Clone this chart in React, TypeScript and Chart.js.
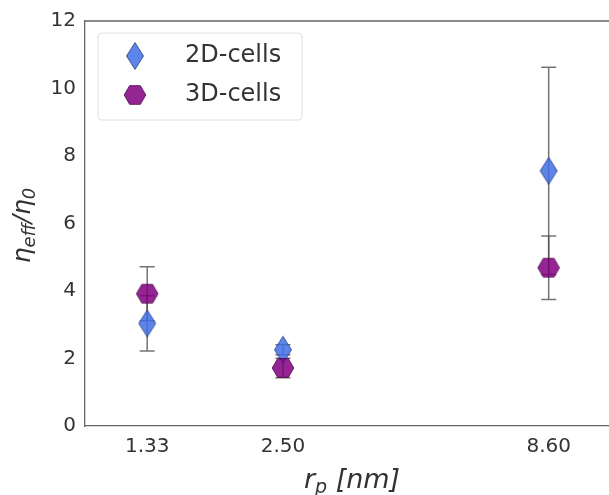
import React, { useEffect, useRef } from "react";
import { Chart, registerables } from "chart.js";
Chart.register(...registerables);

const radii = [1.33, 2.5, 8.6];
const tickLabels = ["1.33", "2.50", "8.60"];
const cells2D = [3.04, 2.26, 7.56];
const err2D = [0.82, 0.15, 3.07];
const cells3D = [3.92, 1.72, 4.69];
const err3D = [0.8, 0.29, 0.94];
const seriesNames = ["2D-cells", "3D-cells"];

const BLUE_FILL = "rgba(65,110,228,0.85)";
const BLUE_EDGE = "#2b3f8c";
const PURPLE_FILL = "rgba(128,0,128,0.85)";
const PURPLE_EDGE = "#4d004d";

function makeDiamond(): HTMLCanvasElement {
  const c = document.createElement("canvas");
  c.width = 20;
  c.height = 30;
  const g = c.getContext("2d")!;
  g.beginPath();
  g.moveTo(10, 1.5);
  g.lineTo(18.5, 15);
  g.lineTo(10, 28.5);
  g.lineTo(1.5, 15);
  g.closePath();
  g.fillStyle = BLUE_FILL;
  g.fill();
  g.strokeStyle = BLUE_EDGE;
  g.lineWidth = 0.8;
  g.stroke();
  return c;
}

function makeHexagon(): HTMLCanvasElement {
  const c = document.createElement("canvas");
  c.width = 24;
  c.height = 22;
  const g = c.getContext("2d")!;
  const cx = 12, cy = 11, r = 10.8;
  g.beginPath();
  for (let i = 0; i < 6; i++) {
    const a = (Math.PI / 3) * i;
    const x = cx + r * Math.cos(a);
    const y = cy + r * Math.sin(a);
    if (i === 0) g.moveTo(x, y);
    else g.lineTo(x, y);
  }
  g.closePath();
  g.fillStyle = PURPLE_FILL;
  g.fill();
  g.strokeStyle = PURPLE_EDGE;
  g.lineWidth = 0.8;
  g.stroke();
  return c;
}

export default function App() {
  const ref = useRef<HTMLCanvasElement>(null);

  useEffect(() => {
    const canvas = ref.current!;
    const diamond = makeDiamond();
    const hexagon = makeHexagon();

    const errorBars = {
      id: "errorBars",
      beforeDatasetsDraw(chart: any) {
        const { ctx, scales } = chart;
        const xs = scales.x, ys = scales.y;
        ctx.save();
        ctx.strokeStyle = "rgba(80,80,80,0.8)";
        ctx.lineWidth = 1.5;
        const draw = (vals: number[], errs: number[]) => {
          vals.forEach((v, i) => {
            const px = xs.getPixelForValue(radii[i]);
            const top = ys.getPixelForValue(v + errs[i]);
            const bot = ys.getPixelForValue(v - errs[i]);
            ctx.beginPath();
            ctx.moveTo(px, top);
            ctx.lineTo(px, bot);
            ctx.moveTo(px - 7.5, top);
            ctx.lineTo(px + 7.5, top);
            ctx.moveTo(px - 7.5, bot);
            ctx.lineTo(px + 7.5, bot);
            ctx.stroke();
          });
        };
        draw(cells2D, err2D);
        draw(cells3D, err3D);
        ctx.restore();
      },
    };

    const decorations = {
      id: "decorations",
      afterDraw(chart: any) {
        const { ctx, chartArea } = chart;
        const { left, right, top, bottom } = chartArea;
        ctx.save();
        // top spine
        ctx.strokeStyle = "#666";
        ctx.lineWidth = 1.3;
        ctx.beginPath();
        ctx.moveTo(left, top);
        ctx.lineTo(right, top);
        ctx.stroke();

        // legend
        const lx = 98, ly = 33, lw = 204, lh = 87;
        ctx.beginPath();
        ctx.roundRect(lx, ly, lw, lh, 4);
        ctx.fillStyle = "rgba(255,255,255,0.8)";
        ctx.fill();
        ctx.strokeStyle = "#e0e0e0";
        ctx.lineWidth = 1;
        ctx.stroke();
        ctx.drawImage(diamond, 135 - 10, 56 - 15);
        ctx.drawImage(hexagon, 135 - 12, 95 - 11);
        ctx.fillStyle = "#333";
        ctx.font = "24px 'DejaVu Sans'";
        ctx.textAlign = "left";
        ctx.textBaseline = "middle";
        ctx.fillText(seriesNames[0], 185, 56);
        ctx.fillText(seriesNames[1], 185, 95);

        // x axis title: r_p [nm]
        const xbig = "italic 27px 'DejaVu Sans'";
        const xsmall = "italic 19px 'DejaVu Sans'";
        const xParts: [string, string, number][] = [
          ["r", xbig, 0],
          ["p", xsmall, 5],
          [" [nm]", xbig, 0],
        ];
        let w = 0;
        xParts.forEach(([t, f]) => {
          ctx.font = f;
          w += ctx.measureText(t).width;
        });
        let x = (left + right) / 2 + 4 - w / 2;
        ctx.textBaseline = "alphabetic";
        ctx.fillStyle = "#333";
        xParts.forEach(([t, f, dy]) => {
          ctx.font = f;
          ctx.fillText(t, x, 488 + dy);
          x += ctx.measureText(t).width;
        });

        // y axis title: eta_eff / eta_0
        const big = "italic 25px 'DejaVu Sans'";
        const small = "italic 18px 'DejaVu Sans'";
        const yParts: [string, string, number][] = [
          ["η", big, 0],
          ["eff", small, 5],
          ["/η", big, 0],
          ["0", small, 5],
        ];
        w = 0;
        yParts.forEach(([t, f]) => {
          ctx.font = f;
          w += ctx.measureText(t).width;
        });
        ctx.translate(30, (top + bottom) / 2 + 2);
        ctx.rotate(-Math.PI / 2);
        x = -w / 2;
        yParts.forEach(([t, f, dy]) => {
          ctx.font = f;
          ctx.fillText(t, x, dy);
          x += ctx.measureText(t).width;
        });
        ctx.restore();
      },
    };

    const chart = new Chart(canvas, {
      type: "scatter",
      data: {
        datasets: [
          {
            label: seriesNames[0],
            data: radii.map((x, i) => ({ x, y: cells2D[i] })),
            pointStyle: diamond as any,
            pointRadius: 10,
            order: 2,
          },
          {
            label: seriesNames[1],
            data: radii.map((x, i) => ({ x, y: cells3D[i] })),
            pointStyle: hexagon as any,
            pointRadius: 10,
            order: 1,
          },
        ],
      },
      options: {
        animation: false,
        responsive: false,
        devicePixelRatio: 1,
        layout: { padding: { top: 20, right: 0, left: 0, bottom: 0 } },
        plugins: {
          legend: { display: false },
          tooltip: { enabled: false },
        },
        scales: {
          x: {
            type: "logarithmic",
            min: 0.996,
            max: 11.49,
            afterBuildTicks: (s: any) => {
              s.ticks = radii.map((v) => ({ value: v }));
            },
            afterFit: (s: any) => {
              s.height = 69;
            },
            ticks: {
              autoSkip: false,
              maxRotation: 0,
              padding: 9,
              color: "#333",
              font: { family: "DejaVu Sans", size: 20 },
              callback: (_v: any, i: number) => tickLabels[i],
            },
            grid: { display: false, drawTicks: false },
            border: { display: true, color: "#666", width: 1.3 },
          },
          y: {
            min: 0,
            max: 12,
            afterFit: (s: any) => {
              s.width = 85;
            },
            ticks: {
              stepSize: 2,
              padding: 9,
              color: "#333",
              font: { family: "DejaVu Sans", size: 20 },
            },
            grid: { display: false, drawTicks: false },
            border: { display: true, color: "#666", width: 1.3 },
          },
        },
      },
      plugins: [errorBars, decorations],
    });
    return () => chart.destroy();
  }, []);

  return (
    <div
      style={{
        position: "absolute",
        left: 0,
        top: 0,
        width: 609,
        height: 495,
        overflow: "hidden",
        background: "#fff",
      }}
    >
      <canvas ref={ref} width={622} height={495} style={{ display: "block" }} />
    </div>
  );
}
